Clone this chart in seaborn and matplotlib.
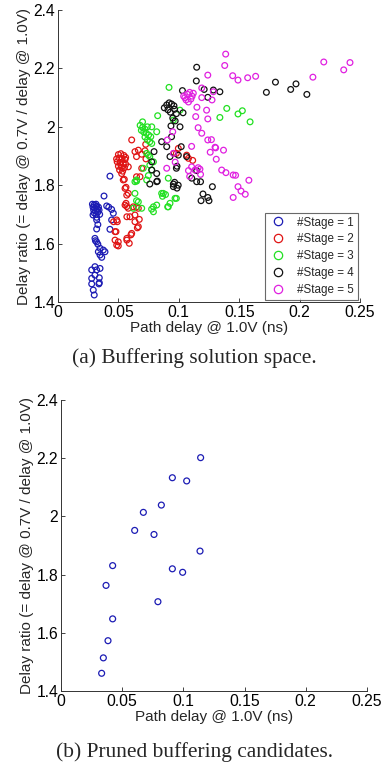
import matplotlib
matplotlib.use("Agg")
import matplotlib.pyplot as plt
from matplotlib.lines import Line2D
import seaborn as sns
import pandas as pd
import numpy as np

# ---------------- data ----------------
s1_x = [0.043, 0.0381, 0.0285, 0.0300, 0.0315, 0.0290, 0.0305, 0.0320, 0.0295, 0.0310, 0.0325, 0.0300,
        0.0315, 0.0330, 0.0290, 0.0335, 0.0340, 0.0320, 0.0345, 0.0403, 0.0420, 0.0444, 0.0458, 0.0444,
        0.043, 0.032, 0.033, 0.032, 0.0306, 0.031, 0.032, 0.033, 0.0348, 0.0334, 0.0375, 0.0389, 0.0348,
        0.0362, 0.0306, 0.0348, 0.032, 0.0279, 0.0279, 0.0306, 0.0342, 0.0342, 0.0279, 0.0339, 0.0292, 0.030]
s1_y = [1.831, 1.763, 1.735, 1.733, 1.735, 1.725, 1.722, 1.728, 1.715, 1.712, 1.718, 1.705,
        1.700, 1.708, 1.698, 1.725, 1.715, 1.690, 1.700, 1.729, 1.725, 1.717, 1.704, 1.681,
        1.649, 1.681, 1.665, 1.650, 1.618, 1.610, 1.606, 1.598, 1.584, 1.572, 1.578, 1.572, 1.561,
        1.553, 1.521, 1.515, 1.510, 1.510, 1.481, 1.492, 1.483, 1.466, 1.462, 1.462, 1.441, 1.424]

s2_x = [0.0500, 0.0520, 0.0545, 0.0505, 0.0530, 0.0555, 0.0490, 0.0515, 0.0540, 0.0560, 0.0500, 0.0525,
        0.0550, 0.0510, 0.0535, 0.0520, 0.0485, 0.0560, 0.0527, 0.0549, 0.054, 0.0582, 0.061, 0.0637,
        0.065, 0.0665, 0.0726, 0.072, 0.0693, 0.0728, 0.0693, 0.0679, 0.065, 0.0563, 0.0555, 0.0582,
        0.0569, 0.0563, 0.0555, 0.0570, 0.0582, 0.0623, 0.065, 0.0665, 0.0637, 0.0596, 0.057, 0.0637,
        0.0673, 0.0657, 0.0665, 0.0486, 0.0491, 0.046, 0.0472, 0.048, 0.0472, 0.0499, 0.0499, 0.0486,
        0.061, 0.0604, 0.057, 0.057, 0.059, 0.098, 0.108, 0.1115, 0.0996, 0.1065, 0.096]
s2_y = [1.905, 1.908, 1.902, 1.893, 1.890, 1.888, 1.880, 1.878, 1.875, 1.872, 1.865, 1.862,
        1.860, 1.852, 1.848, 1.870, 1.890, 1.895, 1.840, 1.820, 1.818, 1.863, 1.955, 1.915,
        1.898, 1.920, 1.940, 1.918, 1.906, 1.890, 1.858, 1.829, 1.829, 1.793, 1.789, 1.772,
        1.766, 1.738, 1.732, 1.727, 1.721, 1.726, 1.726, 1.721, 1.698, 1.692, 1.692, 1.675,
        1.683, 1.654, 1.658, 1.681, 1.675, 1.675, 1.641, 1.641, 1.612, 1.606, 1.592, 1.595,
        1.635, 1.630, 1.618, 1.612, 1.601, 1.909, 1.892, 1.885, 1.926, 1.903, 1.909]

s3_x = [0.0919, 0.0825, 0.101, 0.0955, 0.070, 0.068, 0.070, 0.072, 0.074, 0.069, 0.071, 0.073, 0.0776,
        0.0817, 0.075, 0.0768, 0.072, 0.074, 0.0776, 0.076, 0.0734, 0.0748, 0.076, 0.079, 0.076, 0.0706,
        0.0776, 0.0748, 0.0734, 0.065, 0.0651, 0.0913, 0.0637, 0.0637, 0.0665, 0.065, 0.0623, 0.0693,
        0.079, 0.0775, 0.079, 0.0817, 0.0858, 0.0872, 0.089, 0.0865, 0.0927, 0.0908, 0.0913, 0.0969,
        0.098, 0.1397, 0.134, 0.149, 0.1526, 0.159]
s3_y = [2.135, 2.038, 2.057, 2.023, 2.017, 2.005, 1.998, 1.992, 2.000, 1.988, 1.982, 1.978, 2.000,
        1.983, 1.972, 1.966, 1.965, 1.955, 1.943, 1.949, 1.909, 1.903, 1.898, 1.880, 1.869, 1.858,
        1.852, 1.833, 1.818, 1.818, 1.814, 1.824, 1.812, 1.772, 1.743, 1.747, 1.721, 1.721,
        1.709, 1.718, 1.726, 1.732, 1.772, 1.772, 1.768, 1.762, 1.738, 1.726, 1.726, 1.755,
        1.755, 2.063, 2.032, 2.044, 2.055, 2.017]

s4_x = [0.1148, 0.1145, 0.103, 0.121, 0.1286, 0.134, 0.124, 0.1725, 0.180, 0.1926, 0.197, 0.206,
        0.088, 0.090, 0.092, 0.094, 0.096, 0.091, 0.093, 0.0965, 0.098, 0.1035, 0.095, 0.097,
        0.0935, 0.101, 0.094, 0.0858, 0.090, 0.102, 0.0795, 0.0927, 0.0996, 0.1065, 0.0776, 0.0776,
        0.0817, 0.098, 0.0985, 0.1107, 0.1148, 0.118, 0.1278, 0.076, 0.0955, 0.0965, 0.0822, 0.1148,
        0.0955, 0.0985, 0.0995, 0.0817, 0.120, 0.124, 0.1184, 0.125]
s4_y = [2.204, 2.157, 2.124, 2.128, 2.126, 2.120, 2.101, 2.118, 2.153, 2.128, 2.147, 2.111,
        2.065, 2.075, 2.082, 2.078, 2.072, 2.058, 2.050, 2.060, 2.045, 2.048, 2.030, 2.020,
        2.003, 2.000, 1.966, 1.949, 1.932, 1.932, 1.915, 1.898, 1.903, 1.898, 1.880, 1.852,
        1.840, 1.858, 1.865, 1.824, 1.812, 1.812, 1.795, 1.804, 1.804, 1.810, 1.814, 1.850,
        1.795, 1.790, 1.800, 1.812, 1.770, 1.758, 1.747, 1.747]

s5_x = [0.1388, 0.138, 0.1446, 0.149, 0.157, 0.1636, 0.124, 0.105, 0.107, 0.109, 0.111, 0.106, 0.108,
        0.110, 0.112, 0.104, 0.211, 0.220, 0.2365, 0.2417, 0.119, 0.119, 0.1286, 0.1275, 0.123, 0.124,
        0.115, 0.114, 0.116, 0.119, 0.124, 0.127, 0.1305, 0.126, 0.131, 0.137, 0.1355, 0.139, 0.145,
        0.147, 0.158, 0.149, 0.1515, 0.155, 0.145, 0.0955, 0.097, 0.095, 0.0905, 0.090, 0.108, 0.1106,
        0.109, 0.1134, 0.116, 0.1175, 0.118, 0.1106, 0.130]
s5_y = [2.249, 2.210, 2.175, 2.160, 2.168, 2.173, 2.177, 2.100, 2.112, 2.118, 2.105, 2.092, 2.085,
        2.095, 2.115, 2.105, 2.170, 2.222, 2.195, 2.220, 2.133, 2.100, 2.120, 2.092, 2.057, 2.027,
        2.067, 2.035, 1.997, 1.978, 1.955, 1.956, 1.928, 1.913, 1.889, 1.920, 1.852, 1.843, 1.835,
        1.834, 1.817, 1.795, 1.780, 1.769, 1.758, 1.909, 1.879, 1.983, 1.955, 1.858, 1.850, 1.863,
        1.830, 1.852, 1.860, 1.855, 1.837, 1.933, 1.930]

pruned_x = [0.0422, 0.0602, 0.0673, 0.0760, 0.0820, 0.0910, 0.1027, 0.1141, 0.1136, 0.0910, 0.0994,
            0.0368, 0.0792, 0.0422, 0.0384, 0.0346, 0.0332]
pruned_y = [1.831, 1.952, 2.014, 1.938, 2.039, 2.133, 2.122, 2.202, 1.881, 1.820, 1.808,
            1.763, 1.707, 1.648, 1.573, 1.514, 1.461]

stage_labels = ["#Stage = 1", "#Stage = 2", "#Stage = 3", "#Stage = 4", "#Stage = 5"]
x_ticks = [0, 0.05, 0.1, 0.15, 0.2, 0.25]
x_ticklabels = ["0", "0.05", "0.1", "0.15", "0.2", "0.25"]
y_ticks = [1.4, 1.6, 1.8, 2.0, 2.2, 2.4]
y_ticklabels = ["1.4", "1.6", "1.8", "2", "2.2", "2.4"]
xlabel = "Path delay @ 1.0V (ns)"
ylabel = "Delay ratio (= delay @ 0.7V / delay @ 1.0V)"
caption_a = "(a) Buffering solution space."
caption_b = "(b) Pruned buffering candidates."

colors = ["#1c1cb4", "#e01414", "#22e022", "#111111", "#e020e0"]

# ---------------- build table ----------------
xs = [s1_x, s2_x, s3_x, s4_x, s5_x]
ys = [s1_y, s2_y, s3_y, s4_y, s5_y]
frames = []
for lab, xv, yv in zip(stage_labels, xs, ys):
    frames.append(pd.DataFrame({"delay": xv, "ratio": yv, "stage": lab}))
df = pd.concat(frames, ignore_index=True)
df_p = pd.DataFrame({"delay": pruned_x, "ratio": pruned_y})

sns.set_theme(style="white")
plt.rcParams["font.family"] = ["Liberation Sans", "DejaVu Sans"]

fig = plt.figure(figsize=(3.83, 7.64), dpi=100)
ax1 = fig.add_axes([0.1514, 0.6047, 0.7886, 0.3822])
ax2 = fig.add_axes([0.1593, 0.0955, 0.7987, 0.3809])

tick_fs = 11.3
label_fs = 11


def hollow(ax):
    for coll in ax.collections:
        fc = coll.get_facecolors()
        coll.set_edgecolors(fc)
        coll.set_facecolors("none")
        coll.set_linewidths(0.9)


sns.scatterplot(data=df, x="delay", y="ratio", hue="stage", hue_order=stage_labels,
                palette=colors, s=17, marker="o", ax=ax1, legend=False)
hollow(ax1)

sns.scatterplot(data=df_p, x="delay", y="ratio", color=colors[0], s=18, marker="o",
                ax=ax2, legend=False)
hollow(ax2)

for ax in (ax1, ax2):
    ax.set_xlim(0, 0.25)
    ax.set_ylim(1.4, 2.4)
    ax.set_xticks(x_ticks)
    ax.set_xticklabels(x_ticklabels)
    ax.set_yticks(y_ticks)
    ax.set_yticklabels(y_ticklabels)
    ax.tick_params(direction="in", length=3, width=0.6, labelsize=tick_fs, pad=2,
                   colors="#222222", labelcolor="black", bottom=True, left=True)
    for sp in ("top", "right"):
        ax.spines[sp].set_visible(False)
    for sp in ("left", "bottom"):
        ax.spines[sp].set_color("#333333")
        ax.spines[sp].set_linewidth(0.7)
    ax.set_xlabel(xlabel, fontsize=label_fs, labelpad=1)
    ax.set_ylabel(ylabel, fontsize=label_fs, labelpad=2)

handles = [Line2D([0], [0], marker="o", linestyle="none", markerfacecolor="none",
                  markeredgecolor=c, markersize=6, markeredgewidth=0.9) for c in colors]
leg = ax1.legend(handles, stage_labels, loc="lower right", fontsize=8.4, frameon=True,
                 fancybox=False, edgecolor="#444444", borderpad=0.3, labelspacing=0.42,
                 handletextpad=0.9, handlelength=1.6, borderaxespad=0.2)
leg.get_frame().set_linewidth(0.8)

fig.text(0.508, 1 - 358 / 764, caption_a, ha="center", va="center", fontsize=15.4,
         family=["Liberation Serif", "DejaVu Serif"])
fig.text(0.508, 1 - 752 / 764, caption_b, ha="center", va="center", fontsize=15.4,
         family=["Liberation Serif", "DejaVu Serif"])

fig.savefig("out.png", dpi=100)
